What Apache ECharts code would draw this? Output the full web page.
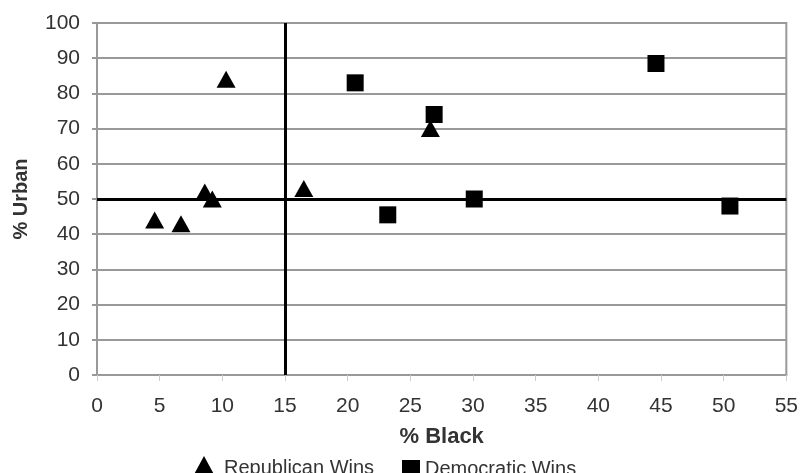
<!DOCTYPE html>
<html>
<head>
<meta charset="utf-8">
<script src="https://cdn.jsdelivr.net/npm/echarts@6/dist/echarts.min.js"></script>
<style>
html,body{margin:0;padding:0;background:#fff;}
#chart{width:801px;height:473px;}
</style>
</head>
<body>
<div id="chart"></div>
<script>
// Data
const seriesNames = ['Republican Wins', 'Democratic Wins'];
const republicanBlack = [4.6, 6.7, 8.6, 9.2, 10.3, 16.5, 26.6];
const republicanUrban = [44, 43, 52, 50, 84, 53, 70];
const democraticBlack = [20.6, 23.2, 26.9, 30.1, 44.6, 50.5];
const democraticUrban = [83, 45.5, 74, 50, 88.5, 48];
const xTicks = [0, 5, 10, 15, 20, 25, 30, 35, 40, 45, 50, 55];
const yTicks = [0, 10, 20, 30, 40, 50, 60, 70, 80, 90, 100];
const refBlack = 15;
const refUrban = 50;

const zip = (xs, ys) => xs.map((x, i) => [x, ys[i]]);
const font = 'Liberation Sans, Arial, sans-serif';

const chart = echarts.init(document.getElementById('chart'), null, {renderer: 'canvas'});
chart.setOption({
  animation: false,
  backgroundColor: '#fff',
  grid: {left: 97, right: 14, top: 23, bottom: 98, show: true, borderColor: '#999', borderWidth: 2},
  xAxis: {
    type: 'value', min: xTicks[0], max: xTicks[xTicks.length - 1], interval: 5,
    name: '% Black', nameLocation: 'middle', nameGap: 51,
    nameTextStyle: {fontFamily: font, fontSize: 22, fontWeight: 'bold', color: '#333'},
    axisLine: {show: true, lineStyle: {color: '#999', width: 2}},
    axisTick: {show: true, length: 6, lineStyle: {color: '#ccc', width: 1}},
    axisLabel: {fontFamily: font, fontSize: 21, color: '#333', margin: 21},
    splitLine: {show: false}
  },
  yAxis: {
    type: 'value', min: yTicks[0], max: yTicks[yTicks.length - 1], interval: 10,
    name: '% Urban', nameLocation: 'middle', nameGap: 66, nameRotate: 90,
    nameTextStyle: {fontFamily: font, fontSize: 20, fontWeight: 'bold', color: '#333'},
    axisLine: {show: true, lineStyle: {color: '#999', width: 2}},
    axisTick: {show: true, length: 5, lineStyle: {color: '#999', width: 2}},
    axisLabel: {fontFamily: font, fontSize: 21, color: '#333', margin: 17},
    splitLine: {show: true, lineStyle: {color: '#999', width: 2}}
  },
  legend: [
    {
      data: [{name: seriesNames[0], icon: 'triangle'}],
      left: 186, top: 451, itemWidth: 26, itemHeight: 24, itemGap: 0,
      textStyle: {fontFamily: font, fontSize: 20, color: '#333', padding: [0, 0, 0, 2]}
    },
    {
      data: [{name: seriesNames[1], icon: 'rect'}],
      left: 397, top: 454, itemWidth: 18, itemHeight: 18, itemGap: 0,
      textStyle: {fontFamily: font, fontSize: 20, color: '#333', padding: [0, 0, 0, 0]}
    }
  ],
  series: [
    {
      name: seriesNames[0], type: 'scatter', symbol: 'triangle', symbolSize: [19, 17],
      itemStyle: {color: '#000', opacity: 1},
      data: zip(republicanBlack, republicanUrban),
      markLine: {
        silent: true, symbol: 'none', animation: false,
        label: {show: false},
        lineStyle: {color: '#000', width: 3, type: 'solid'},
        data: [{xAxis: refBlack}, {yAxis: refUrban}]
      },
      z: 3
    },
    {
      name: seriesNames[1], type: 'scatter', symbol: 'rect', symbolSize: 17,
      itemStyle: {color: '#000', opacity: 1},
      data: zip(democraticBlack, democraticUrban),
      z: 3
    }
  ]
});
</script>
</body>
</html>
